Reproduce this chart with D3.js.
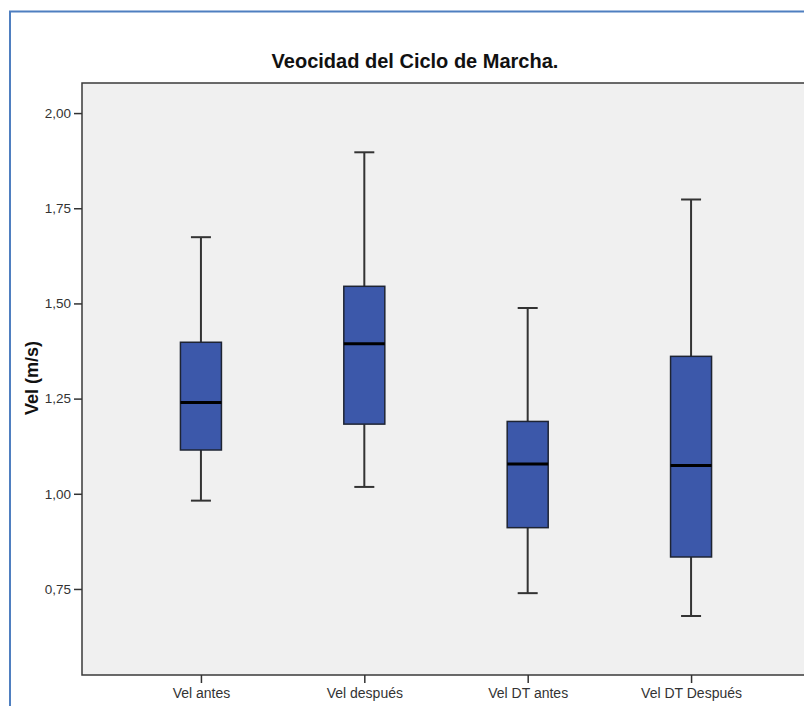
<!DOCTYPE html>
<html>
<head>
<meta charset="utf-8">
<script src="https://cdn.jsdelivr.net/npm/d3@7"></script>
<style>
  html, body { margin: 0; padding: 0; background: #ffffff; }
  svg { display: block; font-family: Arial, "Liberation Sans", sans-serif; }
</style>
</head>
<body>
<svg id="chart" width="804" height="706"></svg>
<script>
// ---- Data ----
const categories = ["Vel antes", "Vel después", "Vel DT antes", "Vel DT Después"];
const whiskerLow  = [0.982, 1.018, 0.739, 0.679];
const q1Values    = [1.115, 1.183, 0.911, 0.834];
const medians     = [1.240, 1.394, 1.078, 1.074];
const q3Values    = [1.398, 1.545, 1.190, 1.361];
const whiskerHigh = [1.674, 1.897, 1.488, 1.773];
const yTicks = [0.75, 1.00, 1.25, 1.50, 1.75, 2.00];
const title = "Veocidad del Ciclo de Marcha.";
const yTitle = "Vel (m/s)";

const boxes = categories.map((c, i) => ({
  cat: c, lo: whiskerLow[i], q1: q1Values[i], med: medians[i], q3: q3Values[i], hi: whiskerHigh[i]
}));

const svg = d3.select("#chart");
const W = 804, H = 706;
const plot = { left: 82, top: 83, right: 812, bottom: 675 };

// outer blue frame (left and top edges visible)
svg.append("path")
  .attr("d", `M10,${H} L10,11.5 L${W},11.5`)
  .attr("fill", "none")
  .attr("stroke", "#4f7fc0")
  .attr("stroke-width", 2);

// scales
const y = d3.scaleLinear().domain([0.524, 2.079]).range([plot.bottom, plot.top]);
const x = d3.scalePoint().domain(categories).range([plot.left, 810]).padding(0.728);

// plot background
svg.append("rect")
  .attr("x", plot.left).attr("y", plot.top)
  .attr("width", plot.right - plot.left + 20).attr("height", plot.bottom - plot.top)
  .attr("fill", "#f0f0f0")
  .attr("stroke", "#3a3a3a")
  .attr("stroke-width", 1.5);

// title
svg.append("text")
  .attr("x", 415).attr("y", 68)
  .attr("text-anchor", "middle")
  .attr("font-size", "20px")
  .attr("font-weight", "bold")
  .attr("fill", "#111")
  .text(title);

// y axis
const locale = d3.formatLocale({ decimal: ",", thousands: ".", grouping: [3], currency: ["", "€"] });
const fmt = locale.format(".2f");
const yAxis = svg.append("g")
  .attr("transform", `translate(${plot.left},0)`)
  .call(d3.axisLeft(y).tickValues(yTicks).tickFormat(fmt).tickSize(8).tickSizeOuter(0).tickPadding(3));
yAxis.select(".domain").remove();
yAxis.selectAll(".tick line").attr("stroke", "#333").attr("stroke-width", 1.5);
yAxis.selectAll(".tick text").attr("font-size", "13.5px").attr("fill", "#333")
  .attr("font-family", "Arial, 'Liberation Sans', sans-serif");

// x axis
const xAxis = svg.append("g")
  .attr("transform", `translate(0,${plot.bottom})`)
  .call(d3.axisBottom(x).tickSize(8).tickSizeOuter(0).tickPadding(5));
xAxis.select(".domain").remove();
xAxis.selectAll(".tick line").attr("stroke", "#333").attr("stroke-width", 1.5);
xAxis.selectAll(".tick text").attr("font-size", "14px").attr("fill", "#333")
  .attr("font-family", "Arial, 'Liberation Sans', sans-serif");

// y title
svg.append("text")
  .attr("transform", `translate(38,378) rotate(-90)`)
  .attr("text-anchor", "middle")
  .attr("font-size", "18px")
  .attr("font-weight", "bold")
  .attr("fill", "#111")
  .text(yTitle);

// boxes
const boxW = 41, capW = 20;
const g = svg.append("g");
const bx = g.selectAll("g.box").data(boxes).join("g").attr("class", "box");

// whiskers
bx.append("line")
  .attr("x1", d => x(d.cat)).attr("x2", d => x(d.cat))
  .attr("y1", d => y(d.hi)).attr("y2", d => y(d.q3))
  .attr("stroke", "#333").attr("stroke-width", 2);
bx.append("line")
  .attr("x1", d => x(d.cat)).attr("x2", d => x(d.cat))
  .attr("y1", d => y(d.q1)).attr("y2", d => y(d.lo))
  .attr("stroke", "#333").attr("stroke-width", 2);
// caps
bx.append("line")
  .attr("x1", d => x(d.cat) - capW / 2).attr("x2", d => x(d.cat) + capW / 2)
  .attr("y1", d => y(d.hi)).attr("y2", d => y(d.hi))
  .attr("stroke", "#333").attr("stroke-width", 2);
bx.append("line")
  .attr("x1", d => x(d.cat) - capW / 2).attr("x2", d => x(d.cat) + capW / 2)
  .attr("y1", d => y(d.lo)).attr("y2", d => y(d.lo))
  .attr("stroke", "#333").attr("stroke-width", 2);
// box
bx.append("rect")
  .attr("x", d => x(d.cat) - boxW / 2)
  .attr("width", boxW)
  .attr("y", d => y(d.q3))
  .attr("height", d => y(d.q1) - y(d.q3))
  .attr("fill", "#3c58aa")
  .attr("stroke", "#1e2433")
  .attr("stroke-width", 1.5);
// median
bx.append("line")
  .attr("x1", d => x(d.cat) - boxW / 2).attr("x2", d => x(d.cat) + boxW / 2)
  .attr("y1", d => y(d.med)).attr("y2", d => y(d.med))
  .attr("stroke", "#000").attr("stroke-width", 3);
</script>
</body>
</html>
